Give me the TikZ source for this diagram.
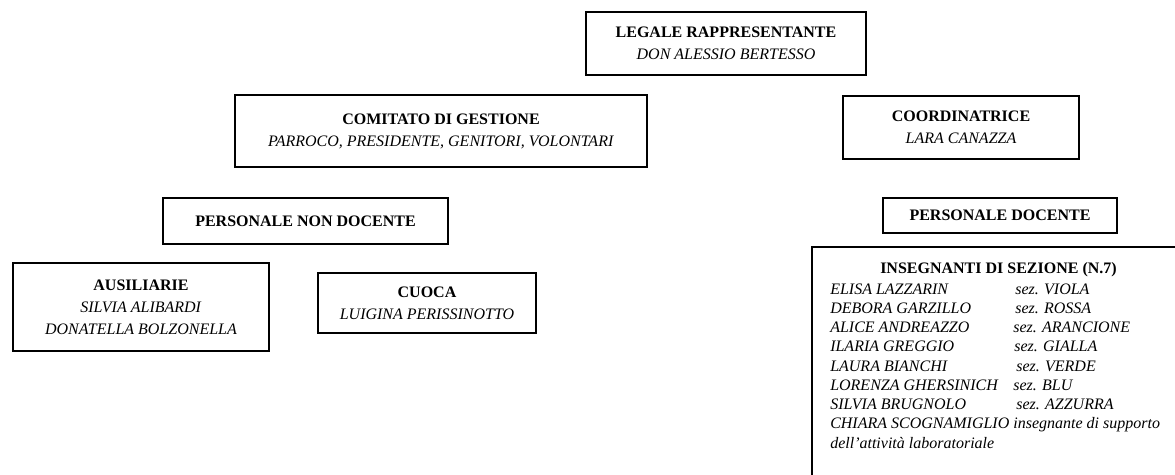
\documentclass[tikz,border=0pt]{standalone}
\usepackage{fontspec}
\setmainfont{Liberation Serif}

\begin{document}
\begin{tikzpicture}[x=0.75pt,y=-0.75pt]
        \tikzset{every node/.style = {font=\fontsize{12}{16.5}\selectfont}}
        \tikzset{box/.style = {shape=rectangle,draw,line width=1.3pt,align=center,inner sep=0pt}}
        \tikzset{voce/.style = {anchor=base west,inner sep=0pt}}
        \clip (0,0) rectangle (1175,475);

        \node[box,minimum width=210pt,minimum height=47.25pt] (legale) at (726,43.5) {\textbf{LEGALE RAPPRESENTANTE}\\\textit{DON ALESSIO BERTESSO}};
        \node[box,minimum width=309pt,minimum height=54pt] (comitato) at (441,131) {\textbf{COMITATO DI GESTIONE}\\\textit{PARROCO, PRESIDENTE, GENITORI, VOLONTARI}};
        \node[box,minimum width=177pt,minimum height=47.25pt] (coordinatrice) at (961,127.5) {\textbf{COORDINATRICE}\\\textit{LARA CANAZZA}};
        \node[box,minimum width=213.75pt,minimum height=34.5pt] (nondocente) at (305.5,221) {\textbf{PERSONALE NON DOCENTE}};
        \node[box,minimum width=175.5pt,minimum height=26.25pt] (docente) at (1000,215.5) {\textbf{PERSONALE DOCENTE}};
        \node[box,minimum width=192pt,minimum height=66pt] (ausiliarie) at (141,307) {\textbf{AUSILIARIE}\\\textit{SILVIA ALIBARDI}\\\textit{DONATELLA BOLZONELLA}};
        \node[box,minimum width=163.5pt,minimum height=45pt] (cuoca) at (427,303) {\textbf{CUOCA}\\\textit{LUIGINA PERISSINOTTO}};
        \node[box,anchor=north west,minimum width=320pt,minimum height=210pt] (insegnanti) at (811,246) {};

        \node[anchor=base,inner sep=0pt] (titolo) at (998.5,273) {\textbf{INSEGNANTI DI SEZIONE (N.7)}};
        \node[voce] (n1) at (830,294) {\textit{ELISA LAZZARIN}};
        \node[voce] (s1) at (1015,294) {\textit{sez. VIOLA}};
        \node[voce] (n2) at (830,313.25) {\textit{DEBORA GARZILLO}};
        \node[voce] (s2) at (1015,313.25) {\textit{sez. ROSSA}};
        \node[voce] (n3) at (830,332.5) {\textit{ALICE ANDREAZZO}};
        \node[voce] (s3) at (1013,332.5) {\textit{sez. ARANCIONE}};
        \node[voce] (n4) at (830,351.75) {\textit{ILARIA GREGGIO}};
        \node[voce] (s4) at (1014,351.75) {\textit{sez. GIALLA}};
        \node[voce] (n5) at (830,371) {\textit{LAURA BIANCHI}};
        \node[voce] (s5) at (1016,371) {\textit{sez. VERDE}};
        \node[voce] (n6) at (830,390.25) {\textit{LORENZA GHERSINICH}};
        \node[voce] (s6) at (1013,390.25) {\textit{sez. BLU}};
        \node[voce] (n7) at (830,409.5) {\textit{SILVIA BRUGNOLO}};
        \node[voce] (s7) at (1016,409.5) {\textit{sez. AZZURRA}};
        \node[voce] (n8) at (830,428.75) {\textit{CHIARA SCOGNAMIGLIO insegnante di supporto}};
        \node[voce] (n9) at (830,448) {\textit{dell’attività laboratoriale}};
      \end{tikzpicture}
\end{document}
